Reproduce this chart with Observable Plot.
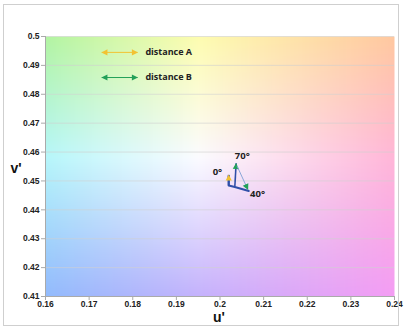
<!DOCTYPE html>
<html>
<head>
<meta charset="utf-8">
<script src="https://cdn.jsdelivr.net/npm/d3@7"></script>
<script src="https://cdn.jsdelivr.net/npm/@observablehq/plot@0.6"></script>
<style>
  html, body { margin: 0; padding: 0; background: #fff; }
  #wrap { position: relative; width: 404px; height: 326px; }
  #border { position: absolute; left: 3px; top: 4px; width: 396px; height: 322px; border: 1px solid #cfcfcf; box-sizing: border-box; pointer-events: none; }
  #wrap svg text { font-weight: bold; }
</style>
</head>
<body>
<div id="wrap"><div id="border"></div></div>
<script>
// ---- data ----
const uTicks = [0.16, 0.17, 0.18, 0.19, 0.2, 0.21, 0.22, 0.23, 0.24];
const vTicks = [0.41, 0.42, 0.43, 0.44, 0.45, 0.46, 0.47, 0.48, 0.49, 0.5];

// background colour field: columns of u, rows of v (top to bottom)
const gridU = [0.16, 0.195, 0.24];
const gridV = [0.5, 0.458, 0.41];
const gridColors = [
  ["#b2f4a2", "#fdfcb0", "#ffc8a0"],
  ["#b6f6fa", "#fbfbff", "#ffb6d8"],
  ["#92bafc", "#c4b2fc", "#f49cf4"]
];

// colour trajectory (u', v')
const trajU = [0.2020, 0.2020, 0.2034, 0.2066];
const trajV = [0.4516, 0.4484, 0.4479, 0.4465];

// angle points and labels
const angleLabels = ["0°", "40°", "70°"];
const angleU = [0.1994, 0.2086, 0.2051];
const angleV = [0.4530, 0.4455, 0.4585];

// distance arrows
const distA = {u1: 0.2020, v1: 0.4484, u2: 0.2020, v2: 0.4521};   // to 0°
const distB70 = {u1: 0.2034, v1: 0.4481, u2: 0.2037, v2: 0.4561}; // to 70°
const dist7040 = {u1: 0.2039, v1: 0.4552, u2: 0.2064, v2: 0.4470}; // 70° -> 40°

// legend
const legendNames = ["distance A", "distance B"];
const legendColors = ["#f2c232", "#22a058"];

// ---- helpers ----
function lerpColor(a, b, t) { return d3.interpolateRgb(a, b)(t); }
function bgColor(u, v) {
  let ci = u <= gridU[1] ? 0 : 1;
  let ri = v >= gridV[1] ? 0 : 1;
  const tu = Math.max(0, Math.min(1, (u - gridU[ci]) / (gridU[ci + 1] - gridU[ci])));
  const tv = Math.max(0, Math.min(1, (v - gridV[ri]) / (gridV[ri + 1] - gridV[ri])));
  const top = lerpColor(gridColors[ri][ci], gridColors[ri][ci + 1], tu);
  const bot = lerpColor(gridColors[ri + 1][ci], gridColors[ri + 1][ci + 1], tu);
  return d3.rgb(lerpColor(top, bot, tv)).formatHex();
}

function tri(fillColor) {
  return function () {
    const m = d3.create("svg:marker")
      .attr("viewBox", "-7 -4 8 8")
      .attr("markerWidth", 7)
      .attr("markerHeight", 7)
      .attr("markerUnits", "userSpaceOnUse")
      .attr("orient", "auto-start-reverse")
      .attr("fill", fillColor)
      .attr("stroke", "none");
    m.append("path").attr("d", "M-6.5,-3.5L0.5,0L-6.5,3.5Z");
    return m.node();
  };
}

const fmt = d => String(+(+d).toFixed(2));
const tickFont = "Liberation Sans, Arial, sans-serif";
const labFont = "'Open Sans', 'DejaVu Sans', sans-serif";

const traj = trajU.map((u, i) => ({u, v: trajV[i]}));
const angles = angleLabels.map((l, i) => ({l, u: angleU[i], v: angleV[i]}));
const legendItems = legendNames.map((n, i) => ({n, c: legendColors[i], v: i === 0 ? 0.4945 : 0.4858}));

const chart = Plot.plot({
  width: 404,
  height: 326,
  marginLeft: 45,
  marginRight: 10,
  marginTop: 36,
  marginBottom: 30,
  style: {background: "transparent", fontFamily: tickFont},
  x: {domain: [0.16, 0.24], ticks: uTicks, tickFormat: fmt, label: null},
  y: {domain: [0.41, 0.5], ticks: vTicks, tickFormat: fmt, label: null},
  color: {type: "identity"},
  marks: [
    Plot.raster({x1: 0.16, x2: 0.24, y1: 0.41, y2: 0.5, pixelSize: 1,
      fill: (u, v) => bgColor(u, v)}),
    Plot.ruleY(vTicks.slice(1), {stroke: "#d0d0d0", strokeOpacity: 0.6, strokeWidth: 1}),
    Plot.axisY({ticks: vTicks, tickFormat: fmt, tickSize: 4, tickPadding: 2, stroke: "#aaa",
      fontSize: 8.5, fontWeight: "bold", fill: "#222", label: null}),
    Plot.axisX({ticks: uTicks, tickFormat: fmt, tickSize: 4, tickPadding: 0, stroke: "#aaa",
      fontSize: 8.5, fontWeight: "bold", fill: "#222", label: null}),
    Plot.ruleX([0.16], {stroke: "#aaa"}),
    Plot.ruleY([0.41], {stroke: "#aaa"}),
    // trajectory
    Plot.line(traj, {x: "u", y: "v", stroke: "#2f4fa8", strokeWidth: 2}),
    // distance arrows
    Plot.link([distA], {x1: "u1", y1: "v1", x2: "u2", y2: "v2", stroke: "#2f4fa8", strokeWidth: 2, markerEnd: tri("#f2c232")}),
    Plot.link([distB70], {x1: "u1", y1: "v1", x2: "u2", y2: "v2", stroke: "#2f4fa8", strokeWidth: 1.6, markerEnd: tri("#22a058")}),
    Plot.link([dist7040], {x1: "u1", y1: "v1", x2: "u2", y2: "v2", stroke: "#8aa6d8", strokeWidth: 1, markerEnd: tri("#22a058")}),
    // angle labels
    Plot.text(angles, {x: "u", y: "v", text: "l", fontSize: 9.5, fontWeight: "bold", fill: "#222", fontFamily: labFont}),
    // legend
    Plot.link(legendItems, {x1: 0.1729, x2: 0.1811, y1: "v", y2: "v", stroke: "c", strokeWidth: 1,
      markerStart: tri("#f2c232"), markerEnd: tri("#f2c232"), filter: (d, i) => i === 0}),
    Plot.link(legendItems, {x1: 0.1729, x2: 0.1811, y1: "v", y2: "v", stroke: "c", strokeWidth: 1,
      markerStart: tri("#22a058"), markerEnd: tri("#22a058"), filter: (d, i) => i === 1}),
    Plot.text(legendItems, {x: 0.1829, y: "v", text: "n", textAnchor: "start", fontSize: 9, fontWeight: "bold", fill: "#222", fontFamily: labFont}),
    // axis titles
    Plot.text(["v'"], {frameAnchor: "left", dx: -35, dy: 2, fontSize: 14, fontWeight: "bold", fill: "#111", fontFamily: tickFont}),
    Plot.text(["u'"], {frameAnchor: "bottom", dx: -1, dy: 25, fontSize: 14, fontWeight: "bold", fill: "#111", fontFamily: tickFont})
  ]
});
document.getElementById("wrap").prepend(chart);
</script>
</body>
</html>
